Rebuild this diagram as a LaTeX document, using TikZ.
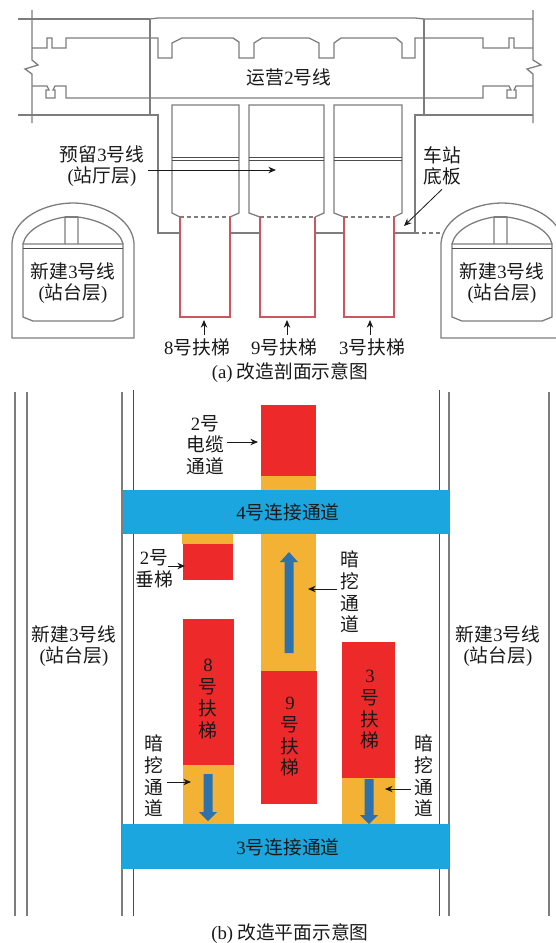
\documentclass[tikz,border=0pt]{standalone}
\usepackage{fontspec}
\setmainfont{Liberation Serif}
\newfontfamily\cjk{Noto Sans CJK SC}
\usetikzlibrary{arrows.meta}
\definecolor{wallgray}{RGB}{125,125,125}
\definecolor{stairred}{RGB}{238,41,41}
\definecolor{pitorange}{RGB}{243,178,52}
\definecolor{linkblue}{RGB}{28,166,223}
\definecolor{flowblue}{RGB}{46,114,173}
\definecolor{pitline}{RGB}{205,85,95}
\newcommand{\dg}[1]{{\rmfamily #1}}
\tikzset{
    wall/.style={draw=wallgray,line width=1.1pt},
    thinwall/.style={draw=black!70,line width=0.8pt},
    redwall/.style={draw=pitline,line width=1pt},
    ptr/.style={-{Stealth[length=6.5pt,width=5.5pt]},line width=0.7pt,draw=black!90},
    lbl/.style={font=\cjk\fontsize{16}{18.5}\selectfont,align=center,inner sep=3pt,text=black!90},
    flow/.style={fill=flowblue,draw=none},
}
\begin{document}
\begin{tikzpicture}[x=0.03cm,y=-0.03cm]
    \useasboundingbox (0,0) rectangle (556,943);
    \clip (0,0) rectangle (556,943);

    % (a) operating line 2
    \draw[wall] (18,19) -- (150,19);
    \draw[wall] (150,19) -- (158,18) -- (415,18) -- (424,19) -- (533,19);
    \draw[wall] (32,10) -- (32,60) -- (38,65) -- (25,69) -- (32,74) -- (32,123);
    \draw[wall] (533,10) -- (533,60) -- (541,65) -- (527,69) -- (533,74) -- (533,123);
    \draw[wall] (32,48) -- (47,48) -- (47,38) -- (52,38) -- (52,48) -- (66,48) -- (66,38) -- (158,38)
        -- (158,58) -- (172,58) -- (172,43) -- (182,38) -- (233,38) -- (239,42) -- (239,58) -- (254,58)
        -- (254,43) -- (262,38) -- (309,38) -- (319,43) -- (319,58) -- (334,58) -- (334,43) -- (341,38)
        -- (396,38) -- (402,43) -- (402,58) -- (415,58) -- (415,38) -- (483,38) -- (483,48) -- (509,48)
        -- (509,38) -- (514,38) -- (514,48) -- (533,48);
    \draw[wall] (32,86) -- (47,86) -- (49,90) -- (46,90) -- (46,98) -- (55,98) -- (55,90) -- (53,90)
        -- (55,86) -- (66,86) -- (66,98) -- (483,98) -- (483,86) -- (509,86) -- (511,90) -- (507,90)
        -- (507,98) -- (516,98) -- (516,90) -- (514,90) -- (516,86) -- (533,86);
    \draw[wall] (150,19) -- (150,115);
    \draw[wall] (424,19) -- (424,115);
    \draw[wall] (18,115) -- (158,115) -- (158,233) -- (180,233);
    \draw[wall] (533,115) -- (415,115) -- (415,233) -- (394,233);
    \draw[wall] (229,233) -- (260,233);
    \draw[wall] (315,233) -- (344,233);
    \draw[wall,dashed] (415,233) -- (442,233);

    % (a) reserved hall boxes
    \foreach \xa/\xb/\xc/\xd in {172/180/230/239,249/260/315/324,334/344/394/402}
    {
        \draw[wall] (\xb,217) -- (\xa,213) -- (\xa,105) -- (\xd,105) -- (\xd,213) -- (\xc,217);
        \draw[wall,dashed] (\xb,217) -- (\xc,217);
        \draw[thinwall] (\xa,157) -- (\xd,157);
        \draw[thinwall] (\xa,160) -- (\xd,160);
        \draw[redwall] (\xb,217) -- (\xb,317) -- (\xc,317) -- (\xc,217);
    }

    % (a) tunnels, same shape twice
    \foreach \dx in {0,429}
    {
        \begin{scope}[xshift=\dx*0.03cm]
            \draw[wall] (12,338) -- (12,243) .. controls (14,218) and (45,203) .. (73,203)
                .. controls (101,203) and (132,218) .. (134,243) -- (134,338) -- cycle;
            \draw[wall] (23,244) .. controls (26,230) and (45,220) .. (65,217) -- (65,244);
            \draw[wall] (78,244) -- (78,217) .. controls (100,220) and (120,230) .. (123,244);
            \draw[wall] (65,217) -- (78,217);
            \draw[wall] (23,244) -- (123,244) -- (123,317) -- (113,321) -- (33,321) -- (23,317) -- cycle;
            \draw[thinwall] (23,248) -- (123,248);
        \end{scope}
    }

    % (a) labels
    \node[lbl] (line2) at (289,77) {\cjk 运营\dg{2}号线};
    \node[lbl] (hall) at (102,166) {预留\dg{3}号线\\\dg{(}站厅层\dg{)}};
    \node[lbl] (slab) at (442,166) {车站\\底板};
    \node[lbl] (tunAL) at (73,283) {新建\dg{3}号线\\\dg{(}站台层\dg{)}};
    \node[lbl] (tunAR) at (502,283) {新建\dg{3}号线\\\dg{(}站台层\dg{)}};
    \node[lbl] (esc8) at (197,347) {\dg{8}号扶梯};
    \node[lbl] (esc9) at (284,347) {\dg{9}号扶梯};
    \node[lbl] (esc3) at (372,347) {\dg{3}号扶梯};
    \node[lbl] (capA) at (290,373) {\dg{(a)} 改造剖面示意图};

    \coordinate (hallTip) at (276,170);
    \coordinate (slabTip) at (404,226);
    \coordinate (esc8Tip) at (204,320);
    \coordinate (esc9Tip) at (287,320);
    \coordinate (esc3Tip) at (370,320);
    \draw[ptr] (hall.east |- hallTip) -- (hallTip);
    \draw[ptr] (slab.south) -- (slabTip);
    \foreach \n in {8,9,3}
    {\draw[ptr] (esc\n Tip |- esc\n.north) -- (esc\n Tip);}

    % (b) walls
    \foreach \xa in {15,27,122,449,549}
    {\draw[wall] (\xa,392) -- (\xa,916);}
    \foreach \xa in {133,439}
    {\draw[thinwall] (\xa,390) -- (\xa,916);}

    % (b) pits and stairs
    \fill[pitorange] (261,476) rectangle (316,490);
    \fill[pitorange] (261,534) rectangle (316,671);
    \fill[pitorange] (182,534) rectangle (233,544);
    \fill[pitorange] (183,765) rectangle (234,824);
    \fill[pitorange] (342,778) rectangle (395,824);
    \fill[stairred] (261,405) rectangle (316,476);
    \fill[stairred] (183,544) rectangle (233,580);
    \fill[stairred] (183,619) rectangle (234,765);
    \fill[stairred] (261,671) rectangle (317,804);
    \fill[stairred] (342,642) rectangle (395,778);
    \fill[linkblue] (123,490) rectangle (450,534);
    \fill[linkblue] (122,824) rectangle (449,869);

    % (b) flow arrows
    \fill[flow] (284.5,653) -- (284.5,562) -- (280,562) -- (289,552) -- (298,562) -- (293.5,562) -- (293.5,653) -- cycle;
    \fill[flow] (203.5,774) -- (203.5,812) -- (199,812) -- (208,821) -- (217,812) -- (212.5,812) -- (212.5,774) -- cycle;
    \fill[flow] (364.5,779) -- (364.5,815) -- (360,815) -- (369,824) -- (378,815) -- (373.5,815) -- (373.5,779) -- cycle;

    % (b) labels
    \node[lbl] (link4) at (288,512) {\dg{4}号连接通道};
    \node[lbl] (link3) at (288,847) {\dg{3}号连接通道};
    \node[lbl] (tunBL) at (74,646) {新建\dg{3}号线\\\dg{(}站台层\dg{)}};
    \node[lbl] (tunBR) at (498,646) {新建\dg{3}号线\\\dg{(}站台层\dg{)}};
    \node[lbl] (cable) at (205,445) {\dg{2}号\\电缆\\通道};
    \node[lbl] (lift) at (154,569) {\dg{2}号\\垂梯};
    \node[lbl] (pitT) at (350,592) {暗\\挖\\通\\道};
    \node[lbl] (pitL) at (154,776) {暗\\挖\\通\\道};
    \node[lbl] (pitR) at (424,776) {暗\\挖\\通\\道};
    \node[lbl] (stair8) at (208,699) {\dg{8}\\号\\扶\\梯};
    \node[lbl] (stair9) at (290,737) {\dg{9}\\号\\扶\\梯};
    \node[lbl] (stair3) at (370,710) {\dg{3}\\号\\扶\\梯};
    \node[lbl] (capB) at (290,934) {\dg{(b)} 改造平面示意图};

    \coordinate (cableTip) at (258,442);
    \coordinate (liftEnd) at (168,566);
    \coordinate (liftTip) at (185,566);
    \coordinate (pitTTip) at (308,589);
    \coordinate (pitLTip) at (191,782);
    \coordinate (pitRTip) at (385,789);
    \draw[ptr] (cable.east |- cableTip) -- (cableTip);
    \draw[ptr] (liftEnd) -- (liftTip);
    \draw[ptr] (pitT.west |- pitTTip) -- (pitTTip);
    \draw[ptr] (pitL.east |- pitLTip) -- (pitLTip);
    \draw[ptr] (pitR.west |- pitRTip) -- (pitRTip);
\end{tikzpicture}
\end{document}
